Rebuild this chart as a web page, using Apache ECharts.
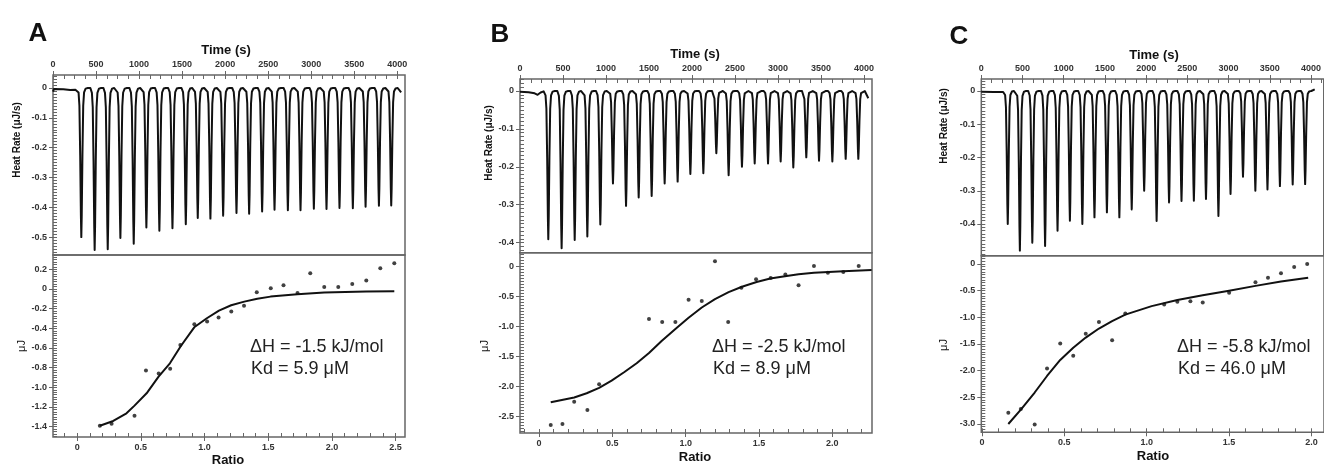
<!DOCTYPE html>
<html>
<head>
<meta charset="utf-8">
<script src="https://cdn.jsdelivr.net/npm/echarts@6/dist/echarts.min.js"></script>
<style>html,body{margin:0;padding:0;background:#fff}#c{width:1324px;height:466px}</style>
</head>
<body>
<div id="c"></div>
<script>
// ---------------- DATA ----------------
// Thermograms: injection peak times (s) and peak heat rates (uJ/s)
const injTimeA = [329, 484, 636, 783, 938, 1085, 1236, 1388, 1543, 1682, 1829, 1977, 2132, 2279, 2430, 2574, 2729, 2876, 3031, 3178, 3329, 3484, 3632, 3787, 3930];
const injPeakA = [-0.500, -0.543, -0.541, -0.503, -0.522, -0.468, -0.479, -0.470, -0.457, -0.436, -0.438, -0.428, -0.419, -0.422, -0.414, -0.408, -0.410, -0.410, -0.405, -0.406, -0.402, -0.403, -0.398, -0.395, -0.394];
const baseStartA = [[0, -0.012], [12, -0.003], [120, -0.004], [200, -0.007], [260, -0.006], [280, -0.001]];
const baseEndA = [[4010, 0.0], [4045, -0.015]];

const injTimeB = [329, 484, 636, 783, 934, 1081, 1233, 1380, 1531, 1682, 1833, 1981, 2132, 2283, 2426, 2581, 2729, 2884, 3031, 3178, 3329, 3477, 3632, 3787, 3934];
const injPeakB = [-0.391, -0.415, -0.393, -0.384, -0.352, -0.244, -0.303, -0.281, -0.277, -0.244, -0.239, -0.219, -0.217, -0.164, -0.222, -0.200, -0.191, -0.191, -0.186, -0.202, -0.175, -0.184, -0.186, -0.179, -0.179];
const baseStartB = [[0, -0.002], [100, -0.003], [170, -0.006], [205, -0.010], [240, -0.004], [275, -0.001]];
const baseEndB = [[4015, 0.0], [4050, -0.019]];

const injTimeC = [321, 468, 619, 774, 925, 1075, 1226, 1373, 1524, 1675, 1825, 1976, 2127, 2278, 2429, 2579, 2726, 2877, 3024, 3175, 3325, 3472, 3623, 3778, 3929];
const injPeakC = [-0.400, -0.480, -0.456, -0.466, -0.420, -0.390, -0.400, -0.380, -0.365, -0.380, -0.356, -0.300, -0.391, -0.335, -0.331, -0.330, -0.325, -0.376, -0.310, -0.258, -0.300, -0.296, -0.286, -0.281, -0.280];
const baseStartC = [[0, -0.002], [150, -0.003], [265, -0.003]];
const baseEndC = [[4010, 0.002], [4045, 0.005]];

// Binding isotherms: integrated heats (uJ) vs molar ratio
const ratioA = [0.178, 0.27, 0.45, 0.54, 0.64, 0.73, 0.81, 0.92, 1.02, 1.11, 1.21, 1.31, 1.41, 1.52, 1.62, 1.73, 1.83, 1.94, 2.05, 2.16, 2.27, 2.38, 2.49];
const heatA  = [-1.39, -1.37, -1.29, -0.83, -0.86, -0.81, -0.57, -0.36, -0.33, -0.29, -0.23, -0.17, -0.034, 0.007, 0.037, -0.04, 0.16, 0.02, 0.02, 0.05, 0.085, 0.21, 0.26];
const fitRatioA = [0.178, 0.283, 0.387, 0.45, 0.545, 0.639, 0.728, 0.814, 0.919, 1.018, 1.113, 1.209, 1.312, 1.414, 1.518, 1.728, 1.94, 2.27, 2.49];
const fitHeatA  = [-1.39, -1.342, -1.264, -1.186, -1.061, -0.892, -0.756, -0.58, -0.39, -0.298, -0.22, -0.166, -0.129, -0.10, -0.078, -0.054, -0.037, -0.027, -0.024];

const ratioB = [0.08, 0.16, 0.24, 0.33, 0.41, 0.75, 0.84, 0.93, 1.02, 1.11, 1.20, 1.29, 1.38, 1.48, 1.58, 1.68, 1.77, 1.875, 1.97, 2.075, 2.18];
const heatB  = [-2.64, -2.62, -2.25, -2.39, -1.96, -0.87, -0.92, -0.92, -0.55, -0.57, 0.09, -0.92, -0.35, -0.21, -0.19, -0.13, -0.31, 0.01, -0.10, -0.09, 0.01];
const fitRatioB = [0.08, 0.24, 0.325, 0.41, 0.495, 0.58, 0.666, 0.75, 0.836, 0.93, 1.018, 1.11, 1.2, 1.293, 1.384, 1.484, 1.577, 1.677, 1.77, 1.875, 2.075, 2.268];
const fitHeatB  = [-2.26, -2.18, -2.11, -2.02, -1.90, -1.76, -1.61, -1.44, -1.24, -1.04, -0.856, -0.68, -0.54, -0.425, -0.335, -0.255, -0.198, -0.158, -0.125, -0.10, -0.078, -0.056];

const ratioC = [0.16, 0.236, 0.32, 0.395, 0.475, 0.554, 0.63, 0.71, 0.79, 0.87, 1.106, 1.186, 1.265, 1.34, 1.50, 1.66, 1.736, 1.815, 1.895, 1.974];
const heatC  = [-2.79, -2.72, -3.01, -1.96, -1.49, -1.72, -1.31, -1.09, -1.43, -0.93, -0.76, -0.71, -0.70, -0.72, -0.54, -0.34, -0.26, -0.175, -0.056, 0.0];
const fitRatioC = [0.16, 0.236, 0.32, 0.395, 0.475, 0.554, 0.63, 0.71, 0.79, 0.87, 1.03, 1.186, 1.34, 1.50, 1.66, 1.815, 1.98];
const fitHeatC  = [-3.0, -2.73, -2.41, -2.10, -1.80, -1.57, -1.38, -1.21, -1.07, -0.95, -0.79, -0.675, -0.585, -0.50, -0.41, -0.33, -0.256];

// Tick labels
const timeTicks = [0, 500, 1000, 1500, 2000, 2500, 3000, 3500, 4000];
const rateTicksA = [0, -0.1, -0.2, -0.3, -0.4, -0.5];
const rateTicksB = [0, -0.1, -0.2, -0.3, -0.4];
const rateTicksC = [0, -0.1, -0.2, -0.3, -0.4];
const heatTicksA = [0.2, 0, -0.2, -0.4, -0.6, -0.8, -1.0, -1.2, -1.4];
const heatTicksB = [0, -0.5, -1.0, -1.5, -2.0, -2.5];
const heatTicksC = [0, -0.5, -1.0, -1.5, -2.0, -2.5, -3.0];
const ratioTicksA = [0, 0.5, 1.0, 1.5, 2.0, 2.5];
const ratioTicksB = [0, 0.5, 1.0, 1.5, 2.0];
const ratioTicksC = [0, 0.5, 1.0, 1.5, 2.0];

const panelLetters = ['A', 'B', 'C'];
const dHText = ['\u0394H = -1.5 kJ/mol', '\u0394H = -2.5 kJ/mol', '\u0394H = -5.8 kJ/mol'];
const kdText = ['Kd = 5.9 \u03bcM', 'Kd = 8.9 \u03bcM', 'Kd = 46.0 \u03bcM'];

// ---------------- STYLE / LAYOUT ----------------
const FONT = "'Liberation Sans', Arial, sans-serif";
const INK = '#111';
const AX = '#666';
// relative spike profile (seconds offset, fraction of peak) – drawing style of each injection peak
const spikeShape = [[-50, 0], [-32, 0.03], [-22, 0.12], [-13, 0.45], [-5, 0.85], [0, 1], [5, 0.85], [13, 0.45], [22, 0.12], [32, 0.03], [50, 0.004], [75, 0]];

const layout = [
  { left: 53, width: 352, top: 75, h1: 180, h2: 182,
    xTop: [0, 4090], yTop: [-0.560, 0.0436], xBot: [-0.19, 2.574], yBot: [-1.505, 0.345], heatMinor: 0.025,
    letter: [38, 34], time: [226, 50], rate: [17, 140], uj: [22, 346], ratio: [228, 460], txt: [250, 347] },
  { left: 520, width: 352, top: 79, h1: 173.7, h2: 180.3,
    xTop: [0, 4093], yTop: [-0.4266, 0.0317], xBot: [-0.1296, 2.2708], yBot: [-2.772, 0.233], heatMinor: 0.05,
    letter: [500, 35], time: [695, 54], rate: [489, 143], uj: [485, 346], ratio: [695, 457], txt: [712, 347] },
  { left: 981.3, width: 348.7, top: 79, h1: 176.7, h2: 176.6,
    xTop: [0, 4155], yTop: [-0.4953, 0.0361], xBot: [-0.004, 2.076], yBot: [-3.156, 0.1556], heatMinor: 0.05,
    letter: [959, 37], time: [1154, 55], rate: [944, 126], uj: [944, 345], ratio: [1153, 456], txt: [1177, 347] }
];

const panels = [
  { t: injTimeA, p: injPeakA, b0: baseStartA, b1: baseEndA, r: ratioA, h: heatA, fr: fitRatioA, fh: fitHeatA,
    rt: rateTicksA, ht: heatTicksA, xt: ratioTicksA },
  { t: injTimeB, p: injPeakB, b0: baseStartB, b1: baseEndB, r: ratioB, h: heatB, fr: fitRatioB, fh: fitHeatB,
    rt: rateTicksB, ht: heatTicksB, xt: ratioTicksB },
  { t: injTimeC, p: injPeakC, b0: baseStartC, b1: baseEndC, r: ratioC, h: heatC, fr: fitRatioC, fh: fitHeatC,
    rt: rateTicksC, ht: heatTicksC, xt: ratioTicksC }
];

// ---------------- BUILD ----------------
function stepsIn(min, max, step) {
  const out = [];
  const k0 = Math.ceil(min / step - 1e-9), k1 = Math.floor(max / step + 1e-9);
  for (let k = k0; k <= k1; k++) out.push(+(k * step).toFixed(6));
  return out;
}
const fmtInt = v => String(Math.round(v));
const fmt1 = v => Math.abs(v) < 1e-9 ? '0' : v.toFixed(1);

function axisPair(gridIndex, position, range, majors, minorStep, fmt) {
  const common = {
    type: 'value', gridIndex, position, min: range[0], max: range[1],
    splitLine: { show: false }, axisLine: { show: false, onZero: false }
  };
  const major = Object.assign({}, common, {
    axisTick: { show: true, inside: false, length: 4, customValues: majors, lineStyle: { color: AX, width: 1 } },
    axisLabel: { show: true, customValues: majors, formatter: fmt, margin: 6, color: '#333',
      fontSize: 9, fontWeight: 'bold', fontFamily: FONT }
  });
  const minor = Object.assign({}, common, {
    axisTick: { show: true, inside: true, length: 4, customValues: stepsIn(range[0], range[1], minorStep),
      lineStyle: { color: AX, width: 1 } },
    axisLabel: { show: false }
  });
  return [major, minor];
}

function buildTrace(d) {
  const pts = d.b0.slice();
  for (let i = 0; i < d.t.length; i++) {
    for (const [dt, f] of spikeShape) pts.push([d.t[i] + dt, +(d.p[i] * f).toFixed(4)]);
  }
  return pts.concat(d.b1);
}

const grid = [], xAxis = [], yAxis = [], series = [], graphic = [];
layout.forEach((L, p) => {
  const D = panels[p];
  const gTop = 2 * p, gBot = 2 * p + 1;
  grid.push({ left: L.left, top: L.top, width: L.width, height: L.h1, show: true,
    borderColor: AX, borderWidth: 1.5, backgroundColor: 'transparent' });
  grid.push({ left: L.left, top: L.top + L.h1, width: L.width, height: L.h2, show: true,
    borderColor: AX, borderWidth: 1.5, backgroundColor: 'transparent' });

  xAxis.push(...axisPair(gTop, 'top', L.xTop, timeTicks, 125, fmtInt));
  xAxis.push(...axisPair(gBot, 'bottom', L.xBot, D.xt, 0.1, fmt1));
  yAxis.push(...axisPair(gTop, 'left', L.yTop, D.rt, 0.01, fmt1));
  yAxis.push(...axisPair(gBot, 'left', L.yBot, D.ht, L.heatMinor, fmt1));

  const xi = 4 * p;
  series.push({ type: 'line', xAxisIndex: xi, yAxisIndex: xi, data: buildTrace(D),
    showSymbol: false, symbol: 'none', lineStyle: { color: INK, width: 2, join: 'round' }, silent: true, z: 3 });
  series.push({ type: 'line', xAxisIndex: xi + 2, yAxisIndex: xi + 2,
    data: D.fr.map((x, i) => [x, D.fh[i]]), smooth: false, showSymbol: false, symbol: 'none',
    lineStyle: { color: INK, width: 2, join: 'round' }, silent: true, z: 3 });
  series.push({ type: 'scatter', xAxisIndex: xi + 2, yAxisIndex: xi + 2,
    data: D.r.map((x, i) => [x, D.h[i]]), symbol: 'circle', symbolSize: 4,
    itemStyle: { color: INK }, silent: true, z: 4 });

  const txt = (s, x, y, font, opts) => Object.assign({
    type: 'text', x, y, silent: true, z: 10,
    style: { text: s, x: 0, y: 0, font, fill: '#111', textAlign: 'center', textVerticalAlign: 'middle',
      align: 'center', verticalAlign: 'middle' }
  }, opts || {});
  graphic.push(txt(panelLetters[p], L.letter[0], L.letter[1], "bold 26px " + FONT));
  graphic.push(txt('Time (s)', L.time[0], L.time[1], "bold 13px " + FONT));
  graphic.push(txt('Heat Rate (\u03bcJ/s)', L.rate[0], L.rate[1], "bold 10px " + FONT, { rotation: Math.PI / 2 }));
  graphic.push(txt('\u03bcJ', L.uj[0], L.uj[1], "11px " + FONT, { rotation: Math.PI / 2 }));
  graphic.push(txt('Ratio', L.ratio[0], L.ratio[1], "bold 13px " + FONT));
  const left = (s, x, y) => ({ type: 'text', x, y, silent: true, z: 10,
    style: { text: s, x: 0, y: 0, font: "18px " + FONT, fill: '#222', textAlign: 'left', textVerticalAlign: 'middle',
      align: 'left', verticalAlign: 'middle' } });
  graphic.push(left(dHText[p], L.txt[0], L.txt[1]));
  graphic.push(left(kdText[p], L.txt[0] + 1, L.txt[1] + 22));
});

const chart = echarts.init(document.getElementById('c'), null, { renderer: 'canvas' });
chart.setOption({
  animation: false,
  backgroundColor: '#fff',
  grid, xAxis, yAxis, series, graphic
});
</script>
</body>
</html>
